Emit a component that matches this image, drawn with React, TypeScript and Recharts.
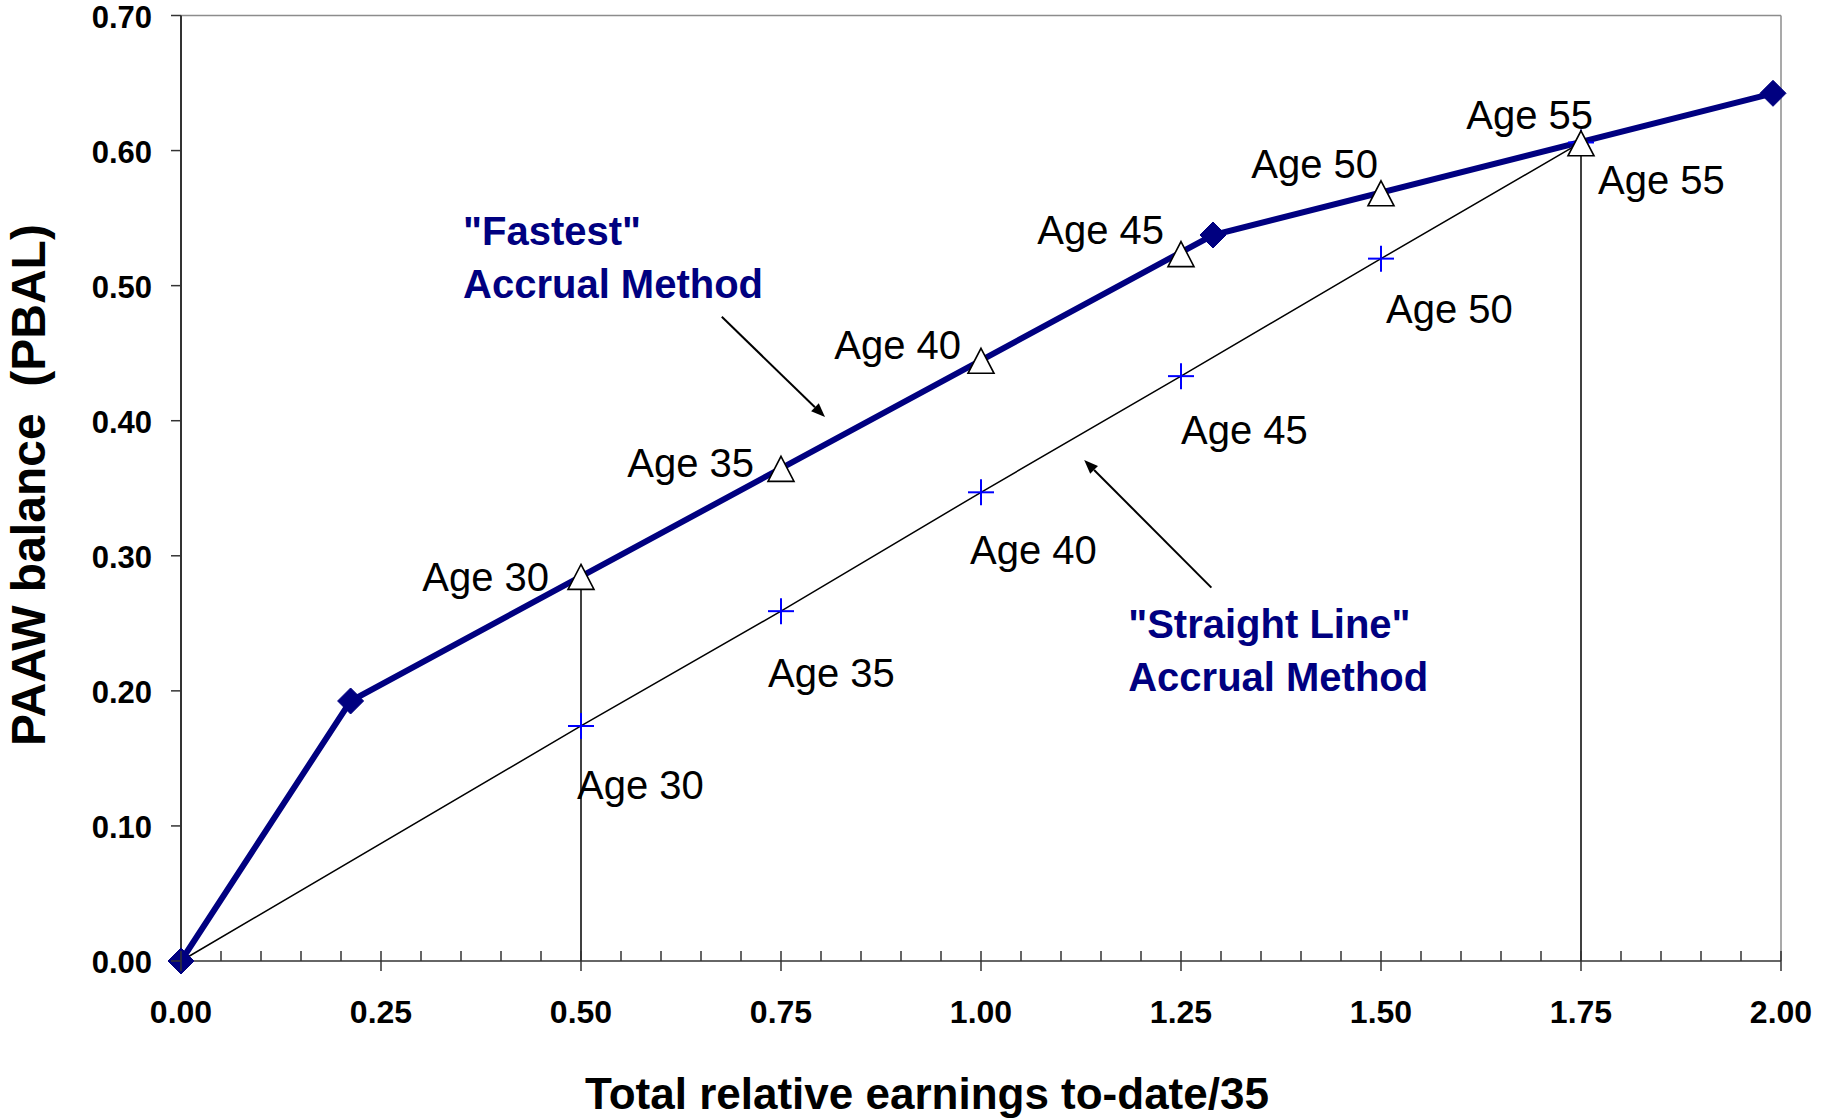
import React from 'react';
import { LineChart, Line, XAxis, YAxis, ReferenceLine, ReferenceDot } from 'recharts';

// ---------- data ----------
const ageLabels = ['Age 30', 'Age 35', 'Age 40', 'Age 45', 'Age 50', 'Age 55'];
const ageX = [0.5, 0.75, 1.0, 1.25, 1.5, 1.75];
const fastestAgeY = [0.284, 0.364, 0.444, 0.523, 0.568, 0.605];
const straightAgeY = [0.174, 0.259, 0.347, 0.433, 0.52, 0.606];
const fastestKinkX = [0, 0.212, 1.29, 1.99];
const fastestKinkY = [0, 0.1925, 0.5375, 0.6424];
const xMajorTicks = [0, 0.25, 0.5, 0.75, 1.0, 1.25, 1.5, 1.75, 2.0];
const yTicks = [0, 0.1, 0.2, 0.3, 0.4, 0.5, 0.6, 0.7];
const xTitle = 'Total relative earnings to-date/35';
const yTitle = 'PAAW balance  (PBAL)';
const fastestNote = ['"Fastest"', 'Accrual Method'];
const straightNote = ['"Straight Line"', 'Accrual Method'];

// annotation anchors (data units)
const fastestNoteAt = { x: 0.3525, y: 0.53 };
const straightNoteAt = { x: 1.184, y: 0.2391 };
const fastestArrow = [{ x: 0.676, y: 0.477 }, { x: 0.805, y: 0.4027 }];
const straightArrow = [{ x: 1.288, y: 0.2764 }, { x: 1.129, y: 0.3709 }];

// ---------- derived tables ----------
const xAllTicks: number[] = [];
for (let i = 0; i < xMajorTicks.length - 1; i++) {
  const a = xMajorTicks[i];
  const b = xMajorTicks[i + 1];
  for (let k = 0; k < 5; k++) xAllTicks.push(+(a + ((b - a) * k) / 5).toFixed(4));
}
xAllTicks.push(xMajorTicks[xMajorTicks.length - 1]);

const fastestKinks = fastestKinkX.map((x, i) => ({ x, y: fastestKinkY[i] }));
const fastestAges = ageX.map((x, i) => ({ x, y: fastestAgeY[i], label: ageLabels[i] }));
const straightLine = [{ x: 0, y: 0, label: '' }].concat(
  ageX.map((x, i) => ({ x, y: straightAgeY[i], label: ageLabels[i] }))
);
const drop1 = [{ x: ageX[0], y: 0 }, { x: ageX[0], y: fastestAgeY[0] }];
const drop2 = [{ x: ageX[5], y: 0 }, { x: ageX[5], y: fastestAgeY[5] }];

// ---------- styles ----------
const FONT = 'Liberation Sans, Arial, Helvetica, sans-serif';
const NAVY = '#000080';
const AXIS = '#333333';
const fastLabelOffset = [[-32, 14], [-27, 8], [-20, -2], [-17, -11], [-3, -16], [12, -15]];
const straightLabelOffset = [[-4, 73], [-13, 76], [-11, 72], [0, 68], [5, 64], [17, 52]];

const XTick = (props: any) => {
  const { x, y, payload } = props;
  const v = payload.value;
  const major = xMajorTicks.some((t) => Math.abs(t - v) < 1e-6);
  return (
    <g>
      <line x1={x} x2={x} y1={y - 10} y2={major ? y + 10 : y} stroke={AXIS} strokeWidth={1.5} />
      {major && (
        <text x={x} y={y + 62} textAnchor="middle" fontFamily={FONT} fontWeight="bold" fontSize={32} fill="#000">
          {v.toFixed(2)}
        </text>
      )}
    </g>
  );
};

const YTick = (props: any) => {
  const { x, y, payload } = props;
  return (
    <g>
      <line x1={x - 10} x2={x} y1={y} y2={y} stroke={AXIS} strokeWidth={1.5} />
      <text x={x - 29} y={y + 12} textAnchor="end" fontFamily={FONT} fontWeight="bold" fontSize={31} fill="#000">
        {Number(payload.value).toFixed(2)}
      </text>
    </g>
  );
};

const Diamond = (p: any) => {
  const { cx, cy } = p;
  if (cx == null || cy == null) return <g />;
  const r = 13;
  return <polygon points={`${cx},${cy - r} ${cx + r},${cy} ${cx},${cy + r} ${cx - r},${cy}`} fill={NAVY} stroke={NAVY} strokeWidth={1} />;
};

const Triangle = (p: any) => {
  const { cx, cy, index } = p;
  if (cx == null || cy == null) return <g />;
  const off = fastLabelOffset[index] || [0, 0];
  return (
    <g>
      <polygon points={`${cx},${cy - 13} ${cx + 13},${cy + 12} ${cx - 13},${cy + 12}`} fill="#fff" stroke="#000" strokeWidth={1.6} />
      <text x={cx + off[0]} y={cy + off[1]} textAnchor="end" fontFamily={FONT} fontSize={40} fill="#000">
        {ageLabels[index]}
      </text>
    </g>
  );
};

const Plus = (p: any) => {
  const { cx, cy, index } = p;
  if (cx == null || cy == null || index === 0) return <g />;
  const off = straightLabelOffset[index - 1] || [0, 0];
  return (
    <g>
      <line x1={cx - 13} x2={cx + 13} y1={cy} y2={cy} stroke="#0000FF" strokeWidth={2} />
      <line x1={cx} x2={cx} y1={cy - 13} y2={cy + 13} stroke="#0000FF" strokeWidth={2} />
      <text x={cx + off[0]} y={cy + off[1]} textAnchor="start" fontFamily={FONT} fontSize={40} fill="#000">
        {ageLabels[index - 1]}
      </text>
    </g>
  );
};

const Arrow = (p: any) => {
  const { x1, y1, x2, y2 } = p;
  const ang = Math.atan2(y2 - y1, x2 - x1);
  const L = 14;
  const W = 5.5;
  const bx = x2 - L * Math.cos(ang);
  const by = y2 - L * Math.sin(ang);
  const px = -Math.sin(ang) * W;
  const py = Math.cos(ang) * W;
  return (
    <g>
      <line x1={x1} y1={y1} x2={bx} y2={by} stroke="#000" strokeWidth={2} />
      <polygon points={`${x2},${y2} ${bx + px},${by + py} ${bx - px},${by - py}`} fill="#000" />
    </g>
  );
};

const Note = (lines: string[]) => (p: any) => {
  const { cx, cy } = p;
  return (
    <g>
      {lines.map((t, i) => (
        <text key={i} x={cx} y={cy + i * 53} fontFamily={FONT} fontWeight="bold" fontSize={40} fill={NAVY} style={{ whiteSpace: 'pre' }}>
          {t}
        </text>
      ))}
    </g>
  );
};

const XTitle = (p: any) => {
  const vb = p.viewBox || { x: 181, y: 961, width: 1600, height: 158 };
  return (
    <text x={vb.x + vb.width / 2 - 54} y={vb.y + 148} textAnchor="middle" fontFamily={FONT} fontWeight="bold" fontSize={44} fill="#000">
      {xTitle}
    </text>
  );
};

const YTitle = (p: any) => {
  const vb = p.viewBox || { x: 0, y: 15.5, width: 181, height: 945.5 };
  const tx = vb.x + 45;
  const ty = 485;
  return (
    <text x={tx} y={ty} transform={`rotate(-90, ${tx}, ${ty})`} textAnchor="middle" fontFamily={FONT} fontWeight="bold" fontSize={48} fill="#000" style={{ whiteSpace: 'pre' }}>
      {yTitle}
    </text>
  );
};

export default function App() {
  return (
    <div style={{ position: 'absolute', left: 0, top: 0, width: 1831, height: 1119, background: '#fff' }}>
      <LineChart width={1831} height={1119} margin={{ top: 15.5, right: 50, bottom: 0, left: 0 }}>
        <XAxis
          type="number"
          dataKey="x"
          domain={[0, 2]}
          ticks={xAllTicks}
          interval={0}
          tickSize={0}
          tickMargin={0}
          tickLine={false}
          tick={(p: any) => <XTick {...p} />}
          height={158}
          axisLine={{ stroke: AXIS, strokeWidth: 1.5 }}
          label={{ value: xTitle, content: (p: any) => <XTitle {...p} /> }}
        />
        <YAxis
          type="number"
          dataKey="y"
          domain={[0, 0.7]}
          ticks={yTicks}
          interval={0}
          tickSize={0}
          tickMargin={0}
          tickLine={false}
          tick={(p: any) => <YTick {...p} />}
          width={181}
          axisLine={{ stroke: AXIS, strokeWidth: 2 }}
          label={{ value: yTitle, content: (p: any) => <YTitle {...p} /> }}
        />
        <ReferenceLine y={0.7} stroke="#8c8c8c" strokeWidth={1.5} />
        <ReferenceLine x={2} stroke="#8c8c8c" strokeWidth={1.5} />
        <ReferenceLine segment={fastestArrow} shape={(p: any) => <Arrow {...p} />} ifOverflow="visible" />
        <ReferenceLine segment={straightArrow} shape={(p: any) => <Arrow {...p} />} ifOverflow="visible" />
        <ReferenceDot x={fastestNoteAt.x} y={fastestNoteAt.y} shape={Note(fastestNote)} ifOverflow="visible" />
        <ReferenceDot x={straightNoteAt.x} y={straightNoteAt.y} shape={Note(straightNote)} ifOverflow="visible" />
        <Line data={straightLine} dataKey="y" stroke="#000" strokeWidth={1.5} dot={(p: any) => <Plus key={`p${p.index}`} {...p} />} activeDot={false} isAnimationActive={false} />
        <Line data={drop1} dataKey="y" stroke="#000" strokeWidth={1.5} dot={false} activeDot={false} isAnimationActive={false} />
        <Line data={drop2} dataKey="y" stroke="#000" strokeWidth={1.5} dot={false} activeDot={false} isAnimationActive={false} />
        <Line data={fastestKinks} dataKey="y" stroke={NAVY} strokeWidth={6} dot={(p: any) => <Diamond key={`d${p.index}`} {...p} />} activeDot={false} isAnimationActive={false} />
        <Line data={fastestAges} dataKey="y" stroke="none" dot={(p: any) => <Triangle key={`t${p.index}`} {...p} />} activeDot={false} isAnimationActive={false} />
      </LineChart>
    </div>
  );
}
